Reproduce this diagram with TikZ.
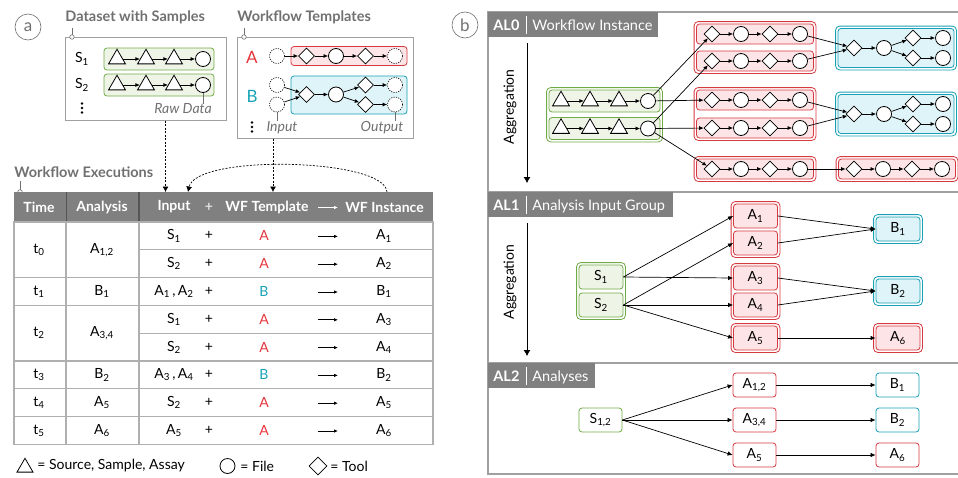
\documentclass[tikz,border=0pt]{standalone}
\usepackage{fontspec}
\setmainfont{Lato}
\usetikzlibrary{arrows.meta,shapes.geometric,fit,backgrounds,positioning}

\definecolor{labgray}{RGB}{112,112,112}
\definecolor{hdrgray}{RGB}{128,128,128}
\definecolor{hdrline}{RGB}{85,85,85}
\definecolor{linegray}{RGB}{175,175,175}
\definecolor{boxgray}{RGB}{160,160,160}
\definecolor{grn}{RGB}{112,170,72}
\definecolor{grnfill}{RGB}{238,245,231}
\definecolor{rd}{RGB}{214,58,64}
\definecolor{rdfill}{RGB}{253,228,231}
\definecolor{tl}{RGB}{26,160,182}
\definecolor{tlfill}{RGB}{222,244,248}
\definecolor{rdtext}{RGB}{228,52,58}
\definecolor{tltext}{RGB}{24,164,182}

\newcommand{\idx}[1]{\textsubscript{#1}}

\tikzset{
  srcshape/.style={regular polygon, regular polygon sides=3, draw, fill=white, inner sep=0pt, minimum size=19.5pt, line width=0.8pt},
  fileshape/.style={circle, draw, fill=white, inner sep=0pt, minimum size=15pt, line width=0.8pt},
  openshape/.style={fileshape, dash pattern=on 1.2pt off 1.2pt, line width=0.6pt},
  toolshape/.style={diamond, draw, fill=white, inner sep=0pt, minimum width=16pt, minimum height=16pt, line width=0.8pt},
  flow/.style={-{Latex[length=4.5pt,width=4pt]}, line width=0.7pt},
  conn/.style={-{Latex[length=5pt,width=4.5pt]}, line width=0.7pt},
  feed/.style={-{Latex[length=5.5pt,width=6pt]}, dash pattern=on 2pt off 1.5pt, line width=0.7pt},
  aggr/.style={-{Latex[length=6pt,width=7pt]}, line width=0.8pt},
  grnrow/.style={draw=grn, fill=grnfill, rounded corners=3pt, inner sep=0pt, line width=0.8pt},
  rdrow/.style={draw=rd, fill=rdfill, rounded corners=3pt, inner sep=0pt, line width=0.8pt},
  tlrow/.style={draw=tl, fill=tlfill, rounded corners=3pt, inner sep=0pt, line width=0.8pt},
  grngrp/.style={draw=grn, rounded corners=4pt, inner sep=2pt, line width=0.8pt},
  rdgrp/.style={draw=rd, rounded corners=4pt, inner sep=2pt, line width=0.8pt},
  tlgrp/.style={draw=tl, rounded corners=4pt, inner sep=2pt, line width=0.8pt},
  smpbox/.style={grnrow, minimum width=44pt, minimum height=24pt},
  anabox/.style={rdrow, minimum width=44pt, minimum height=24pt},
  wfbbox/.style={tlrow, minimum width=44pt, minimum height=24pt},
  smpplain/.style={draw=grn, fill=white, rounded corners=3pt, minimum width=43pt, minimum height=24pt, inner sep=0pt, line width=0.8pt},
  anaplain/.style={smpplain, draw=rd},
  wfbplain/.style={smpplain, draw=tl},
  boxlabel/.style={anchor=base west, text=labgray, font=\fontsize{14.5}{16}\selectfont\bfseries, inner sep=0pt},
  notetext/.style={text=labgray, font=\fontsize{14}{16}\selectfont\itshape, inner sep=0pt},
  pinline/.style={labgray, line width=0.6pt},
  pindot/.style={circle, draw=labgray, fill=white, inner sep=0pt, minimum size=4.5pt, line width=0.6pt},
  panelbox/.style={draw=boxgray, line width=1pt, inner sep=0pt},
  panelmark/.style={circle, draw=labgray, text=labgray, minimum size=26pt, inner sep=0pt, line width=0.6pt, font=\fontsize{17}{18}\selectfont},
  hdtext/.style={text=white, font=\fontsize{14}{16}\selectfont\bfseries},
  alname/.style={anchor=base west, text=white, font=\fontsize{14.5}{16}\selectfont\bfseries, inner sep=0pt},
  altitle/.style={anchor=base west, text=white, font=\fontsize{14.5}{16}\selectfont, inner sep=0pt},
}

\begin{document}
\begin{tikzpicture}[x=1pt, y=-1pt, line width=0.8pt, font=\fontsize{14}{16}\selectfont]
\useasboundingbox (0,0) rectangle (958,477);

% ---------- (a) ----------
\node[panelmark] (marka) at (28,27) {a};

% dataset
\node[boxlabel] (dslab) at (65,21.5) {Dataset with Samples};
\node[panelbox, minimum width=161pt, minimum height=83pt] (dsbox) at (145.5,78.5) {};
\draw[pinline] (72,28) -- (72,37) node[pindot] {};
\foreach \r/\y in {1/59, 2/85}{
  \node (dsS\r) at (82,\y) {S\idx{\r}};
  \node[grnrow, minimum width=110pt, minimum height=22pt] (dsrow\r) at (159,\y) {};
  \node[srcshape] (ds\r-a) at (117,\y) {};
  \node[srcshape] (ds\r-b) at (146,\y) {};
  \node[srcshape] (ds\r-c) at (174,\y) {};
  \node[fileshape] (ds\r-d) at (203,\y) {};
  \draw[flow] (ds\r-a) -- (ds\r-b);
  \draw[flow] (ds\r-b) -- (ds\r-c);
  \draw[flow] (ds\r-c) -- (ds\r-d);
}
\foreach \d in {-4.5,0,4.5}
  \fill (82,108+\d) circle (1.3);
\node[notetext] (rawlab) at (183,109) {Raw Data};
\draw[pinline] (ds2-d.south) -- (ds2-d.south |- rawlab.north);

% templates
\node[boxlabel] (wtlab) at (237,21.5) {Workflow Templates};
\node[panelbox, minimum width=176pt, minimum height=101pt] (wtbox) at (325,87.5) {};
\draw[pinline] (244,28) -- (244,37) node[pindot] {};
\node[text=rdtext, font=\fontsize{17}{18}\selectfont] (tA) at (252,57) {A};
\node[text=tltext, font=\fontsize{17}{18}\selectfont] (tB) at (252,96) {B};

\node[rdrow, minimum width=116pt, minimum height=19pt] (rowA) at (349,56) {};
\node[openshape] (Ain) at (277,56) {};
\node[toolshape] (Aa) at (306.5,56) {};
\node[fileshape] (Ab) at (336,56) {};
\node[toolshape] (Ac) at (365.5,56) {};
\node[openshape] (Aout) at (395,56) {};
\draw[flow] (Ain) -- (Aa);
\draw[flow] (Aa) -- (Ab);
\draw[flow] (Ab) -- (Ac);
\draw[flow] (Ac) -- (Aout);

\node[tlrow, minimum width=116pt, minimum height=38pt] (rowB) at (349,95) {};
\node[openshape] (Bin1) at (277,85) {};
\node[openshape] (Bin2) at (277,104.5) {};
\node[toolshape] (Ba) at (306.5,94.5) {};
\node[fileshape] (Bb) at (336,94.5) {};
\node[toolshape] (Bc1) at (365.5,85) {};
\node[toolshape] (Bc2) at (365.5,104.5) {};
\node[openshape] (Bout1) at (395,85) {};
\node[openshape] (Bout2) at (395,104.5) {};
\draw[flow] (Bin1) -- (Ba);
\draw[flow] (Bin2) -- (Ba);
\draw[flow] (Ba) -- (Bb);
\draw[flow] (Bb) -- (Bc1);
\draw[flow] (Bb) -- (Bc2);
\draw[flow] (Bc1) -- (Bout1);
\draw[flow] (Bc2) -- (Bout2);

\foreach \d in {-4.5,0,4.5}
  \fill (252,127+\d) circle (1.3);
\node[notetext] (inlab) at (282,128) {Input};
\node[notetext] (outlab) at (382,128) {Output};
\draw[pinline] (Bin2.south) -- (Bin2.south |- inlab.north);
\draw[pinline] (Bout2.south) -- (Bout2.south |- outlab.north);

% executions
\node[boxlabel] (exlab) at (14,177.5) {Workflow Executions};
\draw[pinline] (20,181) -- (20,192) node[pindot] {};

\coordinate (cDs) at (165.5,192);
\coordinate (cTp) at (273,192);
\coordinate (cInst) at (387,192);
\coordinate (cIn) at (188,192);
\draw[feed] (dsbox.south -| cDs) -- (cDs);
\draw[feed] (wtbox.south -| cTp) -- (cTp);
\draw[feed] (cInst) .. controls (385,158) and (196,154) .. (cIn);

% table
\fill[hdrgray] (14,192) rectangle (433,222);
\draw[hdrline, line width=1pt] (66,192) -- (66,222);
\draw[hdrline, line width=1.4pt] (139,192) -- (139,222);
\node[hdtext] (hTime) at (39,207) {Time};
\node[hdtext] (hAna) at (102,207) {Analysis};
\node[hdtext] (hIn) at (174,207) {Input};
\node[hdtext, text=white!75!hdrgray] (hPlus) at (209,207) {+};
\node[hdtext] (hTpl) at (267,207) {WF Template};
\draw[white, -{Latex[length=4pt,width=3.5pt]}, line width=0.8pt] (318,207.5) -- (338,207.5);
\node[hdtext] (hIns) at (384.5,207) {WF Instance};

\draw[linegray, line width=1.2pt] (14,222) rectangle (433,444.4);
\draw[linegray, line width=1.2pt] (66,222) -- (66,444.4);
\draw[linegray, line width=1.6pt] (139,222) -- (139,444.4);
\foreach \y in {277.6, 305.4, 361, 388.8, 416.6}
  \draw[linegray, line width=1.2pt] (14,\y) -- (433,\y);
\foreach \y in {249.8, 333.2}
  \draw[linegray, line width=1.2pt] (139,\y) -- (433,\y);

\node (tt0) at (39,249.8) {t\idx{0}};
\node (ta0) at (102,249.8) {A\idx{1,2}};
\node (tt1) at (39,291.5) {t\idx{1}};
\node (ta1) at (102,291.5) {B\idx{1}};
\node (tt2) at (39,333.2) {t\idx{2}};
\node (ta2) at (102,333.2) {A\idx{3,4}};
\node (tt3) at (39,374.9) {t\idx{3}};
\node (ta3) at (102,374.9) {B\idx{2}};
\node (tt4) at (39,402.7) {t\idx{4}};
\node (ta4) at (102,402.7) {A\idx{5}};
\node (tt5) at (39,430.5) {t\idx{5}};
\node (ta5) at (102,430.5) {A\idx{6}};

\foreach \y/\inp/\tc/\tt/\ins [count=\i] in {
    235.9/S\idx{1}/rdtext/A/A\idx{1},
    263.7/S\idx{2}/rdtext/A/A\idx{2},
    291.5/{A\idx{1}\,,\,A\idx{2}}/tltext/B/B\idx{1},
    319.3/S\idx{1}/rdtext/A/A\idx{3},
    347.1/S\idx{2}/rdtext/A/A\idx{4},
    374.9/{A\idx{3}\,,\,A\idx{4}}/tltext/B/B\idx{2},
    402.7/S\idx{2}/rdtext/A/A\idx{5},
    430.5/A\idx{5}/rdtext/A/A\idx{6}}{
  \node (tin\i) at (174,\y) {\inp};
  \node (tpl\i) at (209,\y) {+};
  \node[text=\tc] (ttp\i) at (264,\y) {\tt};
  \draw[-{Latex[length=4pt,width=3.5pt]}, line width=0.8pt] (318,\y+0.5) -- (338,\y+0.5);
  \node (tins\i) at (384,\y) {\ins};
}

% legend
\node[srcshape, minimum size=18.5pt] (lgsrc) at (25,467.5) {};
\node[anchor=west, inner sep=0pt] (lgsrctxt) at (37,466) {= Source, Sample, Assay};
\node[fileshape] (lgfile) at (227.5,466) {};
\node[anchor=west, inner sep=0pt] (lgfiletxt) at (240,466) {= File};
\node[toolshape, minimum width=18pt, minimum height=18pt] (lgtool) at (318,466) {};
\node[anchor=west, inner sep=0pt] (lgtooltxt) at (330,466) {= Tool};

% ---------- (b) ----------
\node[panelmark] (markb) at (465,25) {b};

\draw[boxgray, line width=1.2pt] (958,12) -- (488,12) -- (488,474) -- (958,474);
\draw[boxgray, line width=1.2pt] (488,192) -- (958,192);
\draw[boxgray, line width=1.2pt] (488,363) -- (958,363);

% level headers
\fill[hdrgray] (488,12) rectangle (658,37);
\node[alname] (al0) at (493,30.5) {AL0};
\draw[white, line width=0.7pt] (526,16) -- (526,34);
\node[altitle] (al0t) at (532,30.5) {Workflow Instance};

\fill[hdrgray] (488,192) rectangle (673,217);
\node[alname] (al1) at (493,210.5) {AL1};
\draw[white, line width=0.7pt] (526,196) -- (526,214);
\node[altitle] (al1t) at (532,210.5) {Analysis Input Group};

\fill[hdrgray] (488,363) rectangle (595,388);
\node[alname] (al2) at (493,381.5) {AL2};
\draw[white, line width=0.7pt] (526,367) -- (526,385);
\node[altitle] (al2t) at (532,381.5) {Analyses};

% aggregation
\coordinate (ag0s) at (527,43);
\coordinate (ag0e) at (527,183);
\draw[aggr] (ag0s) -- (ag0e);
\node[rotate=90] (ag0lab) at (510,107) {Aggregation};
\coordinate (ag1s) at (527,223);
\coordinate (ag1e) at (527,356);
\draw[aggr] (ag1s) -- (ag1e);
\node[rotate=90] (ag1lab) at (510,282) {Aggregation};

% AL0 samples
\foreach \r/\y in {1/101, 2/128.5}{
  \node[grnrow, minimum width=111pt, minimum height=22pt] (gr\r) at (604.5,\y) {};
  \node[srcshape] (g\r-a) at (561,\y) {};
  \node[srcshape] (g\r-b) at (590,\y) {};
  \node[srcshape] (g\r-c) at (619,\y) {};
  \node[fileshape] (g\r-d) at (648,\y) {};
  \draw[flow] (g\r-a) -- (g\r-b);
  \draw[flow] (g\r-b) -- (g\r-c);
  \draw[flow] (g\r-c) -- (g\r-d);
}

% AL0 instances of A
\foreach \r/\x/\y in {1/755/34, 2/755/61, 3/755/100, 4/755/128, 5/755/169, 6/897/169}{
  \node[rdrow, minimum width=117pt, minimum height=20pt] (ar\r) at (\x,\y) {};
  \node[toolshape] (a\r-a) at (\x-43,\y) {};
  \node[fileshape] (a\r-b) at (\x-14,\y) {};
  \node[toolshape] (a\r-c) at (\x+15,\y) {};
  \node[fileshape] (a\r-d) at (\x+45,\y) {};
  \draw[flow] (a\r-a) -- (a\r-b);
  \draw[flow] (a\r-b) -- (a\r-c);
  \draw[flow] (a\r-c) -- (a\r-d);
}

% AL0 instances of B
\foreach \r/\y in {1/48, 2/114}{
  \node[tlrow, minimum width=116pt, minimum height=39pt] (br\r) at (896,\y) {};
  \node[toolshape] (b\r-a) at (854,\y) {};
  \node[fileshape] (b\r-b) at (884,\y) {};
  \node[toolshape] (b\r-c) at (913,\y-10) {};
  \node[toolshape] (b\r-e) at (913,\y+10) {};
  \node[fileshape] (b\r-d) at (943,\y-10) {};
  \node[fileshape] (b\r-f) at (943,\y+10) {};
  \draw[flow] (b\r-a) -- (b\r-b);
  \draw[flow] (b\r-b) -- (b\r-c);
  \draw[flow] (b\r-b) -- (b\r-e);
  \draw[flow] (b\r-c) -- (b\r-d);
  \draw[flow] (b\r-e) -- (b\r-f);
}

\draw[flow] (g1-d) -- (a1-a);
\draw[flow] (g2-d) -- (a2-a);
\draw[flow] (g1-d) -- (a3-a);
\draw[flow] (g2-d) -- (a4-a);
\draw[flow] (g2-d) -- (a5-a);
\draw[flow] (a1-d) -- (b1-a);
\draw[flow] (a2-d) -- (b1-a);
\draw[flow] (a3-d) -- (b2-a);
\draw[flow] (a4-d) -- (b2-a);
\draw[flow] (a5-d) -- (a6-a);

% AL1
\node[smpbox] (s1) at (601,277) {S\idx{1}};
\node[smpbox] (s2) at (601,305) {S\idx{2}};
\node[anabox] (l1a1) at (755.5,216) {A\idx{1}};
\node[anabox] (l1a2) at (755.5,243) {A\idx{2}};
\node[anabox] (l1a3) at (755.5,278) {A\idx{3}};
\node[anabox] (l1a4) at (755.5,305) {A\idx{4}};
\node[anabox] (l1a5) at (755.5,338) {A\idx{5}};
\node[wfbbox] (l1b1) at (898,229) {B\idx{1}};
\node[wfbbox] (l1b2) at (898,291) {B\idx{2}};
\node[anabox] (l1a6) at (898,338) {A\idx{6}};

\draw[conn] (s1.east) -- (l1a1.west);
\draw[conn] (s1.east) -- (l1a3.west);
\draw[conn] (s2.east) -- (l1a2.west);
\draw[conn] (s2.east) -- (l1a4.west);
\draw[conn] (s2.east) -- (l1a5.west);
\draw[conn] (l1a1.east) -- (l1b1.west);
\draw[conn] (l1a2.east) -- (l1b1.west);
\draw[conn] (l1a3.east) -- (l1b2.west);
\draw[conn] (l1a4.east) -- (l1b2.west);
\draw[conn] (l1a5.east) -- (l1a6.west);

% AL2
\node[smpplain] (s12) at (600.5,420) {S\idx{1,2}};
\node[anaplain] (l2a12) at (754.5,385) {A\idx{1,2}};
\node[anaplain] (l2a34) at (754.5,420) {A\idx{3,4}};
\node[anaplain] (l2a5) at (754.5,455) {A\idx{5}};
\node[wfbplain] (l2b1) at (897.5,385) {B\idx{1}};
\node[wfbplain] (l2b2) at (897.5,420) {B\idx{2}};
\node[anaplain] (l2a6) at (897.5,455) {A\idx{6}};

\draw[conn] (s12.east) -- (l2a12.west);
\draw[conn] (s12.east) -- (l2a34.west);
\draw[conn] (s12.east) -- (l2a5.west);
\draw[conn] (l2a12) -- (l2b1);
\draw[conn] (l2a34) -- (l2b2);
\draw[conn] (l2a5) -- (l2a6);

% group boxes
\begin{scope}[on background layer]
  \node[grngrp, fit=(gr1)(gr2)] (ggrp) {};
  \node[rdgrp, fit=(ar1)(ar2)] (agrp1) {};
  \node[rdgrp, fit=(ar3)(ar4)] (agrp2) {};
  \node[rdgrp, fit=(ar5)] (agrp3) {};
  \node[rdgrp, fit=(ar6)] (agrp4) {};
  \node[tlgrp, fit=(br1)] (bgrp1) {};
  \node[tlgrp, fit=(br2)] (bgrp2) {};
  \node[grngrp, fit=(s1)(s2)] (sgrp) {};
  \node[rdgrp, fit=(l1a1)(l1a2)] (l1grp1) {};
  \node[rdgrp, fit=(l1a3)(l1a4)] (l1grp2) {};
  \node[rdgrp, fit=(l1a5)] (l1grp3) {};
  \node[tlgrp, fit=(l1b1)] (l1grp4) {};
  \node[tlgrp, fit=(l1b2)] (l1grp5) {};
  \node[rdgrp, fit=(l1a6)] (l1grp6) {};
\end{scope}
\end{tikzpicture}
\end{document}
